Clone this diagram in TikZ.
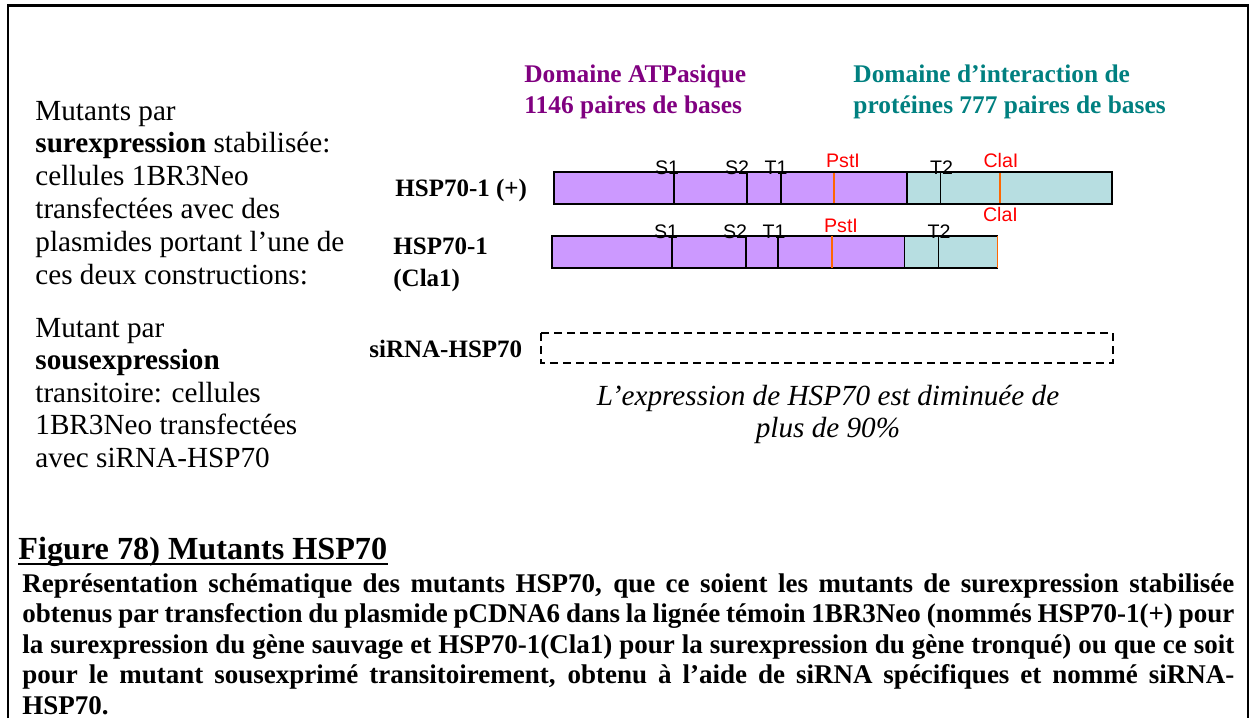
\documentclass[tikz,border=0pt]{standalone}
\usepackage{fontspec}
\setmainfont{Liberation Serif}
\newfontfamily\arialfont{Liberation Sans}
\definecolor{atpcol}{HTML}{CC99FF}
\definecolor{intcol}{HTML}{B7DEE1}
\definecolor{atptext}{HTML}{800080}
\definecolor{inttext}{HTML}{008080}
\definecolor{cutcol}{HTML}{FF6600}

\begin{document}
\begin{tikzpicture}[x=0.5pt,y=-0.5pt,
    bartick/.style={line width=0.9pt},
    cuttick/.style={cutcol,line width=0.9pt},
    sitelbl/.style={font=\arialfont\fontsize{9.8}{11}\selectfont,inner sep=0pt,anchor=base},
    cutlbl/.style={sitelbl,text=red},
    cstlbl/.style={font=\bfseries\fontsize{12.5}{16}\selectfont,inner sep=0pt,anchor=base west,align=left},
    domlbl/.style={font=\bfseries\fontsize{12.7}{15.5}\selectfont,inner sep=0pt,anchor=base west,align=left},
    sidetxt/.style={font=\fontsize{14.6}{16.4}\selectfont,inner sep=0pt,anchor=base west,align=left}]
  \useasboundingbox (0,0) rectangle (1251,718);
  % cadre
  \draw[line width=1pt] (7.5,718) -- (7.5,5) -- (1247.5,5) -- (1247.5,718);
  \draw[line width=1.5pt] (7,5) -- (1248,5);

  % texte de gauche (ancre = ligne de base de la derniere ligne)
  \node[sidetxt] (surexp) at (35,284) {Mutants par\\
    \textbf{surexpression} stabilisée:\\
    cellules 1BR3Neo\\
    transfectées avec des\\
    plasmides portant l’une de\\
    ces deux constructions:};
  \node[sidetxt,font=\fontsize{14.6}{16.25}\selectfont] (sousexp) at (35,467) {Mutant par\\
    \textbf{sousexpression}\\
    transitoire: cellules\\
    1BR3Neo transfectées\\
    avec siRNA-HSP70};

  % domaines
  \node[domlbl,text=atptext] (domatp) at (524,113) {Domaine ATPasique\\1146 paires de bases};
  \node[domlbl,text=inttext] (domint) at (853,113) {Domaine d’interaction de\\protéines 777 paires de bases};

  % HSP70-1 (+)
  \fill[atpcol] (554,172) rectangle (907,204);
  \fill[intcol] (907,172) rectangle (1112,204);
  \foreach \px in {674,747,780.6,940.4}
    \draw[bartick] (\px,172) -- (\px,204);
  \draw[line width=0.6pt] (907,172) -- (907,204);
  \foreach \px in {833.6,999.8}
    \draw[cuttick] (\px,172) -- (\px,204);
  \draw[bartick] (554,172) rectangle (1112,204);
  \foreach \nm/\px in {S1/667,S2/737,T1/776,T2/941.5}
    \node[sitelbl] (a\nm) at (\px,174) {\nm};
  \node[cutlbl] (apst) at (843,167) {PstI};
  \node[cutlbl] (acla) at (1001,167) {ClaI};
  \node[cstlbl] (plus) at (395,196) {HSP70-1 (+)};

  % HSP70-1 (Cla1)
  \fill[atpcol] (552,236) rectangle (904.7,268);
  \fill[intcol] (904.7,236) rectangle (997.5,268);
  \foreach \px in {672,745.6,778,938.5}
    \draw[bartick] (\px,236) -- (\px,268);
  \draw[line width=0.6pt] (904.7,236) -- (904.7,268);
  \draw[bartick] (997.5,236) -- (552,236) -- (552,268) -- (997.5,268);
  \foreach \px in {831.7,997.5}
    \draw[cuttick] (\px,236) -- (\px,268);
  \foreach \nm/\px in {S1/666,S2/735,T1/774,T2/939}
    \node[sitelbl] (b\nm) at (\px,238) {\nm};
  \node[cutlbl] (bpst) at (841,232) {PstI};
  \node[cutlbl] (bcla) at (1000.5,221) {ClaI};
  \node[cstlbl] (trunc) at (393,286) {HSP70-1\\(Cla1)};

  % siRNA
  \draw[line width=0.75pt,dash pattern=on 4pt off 2.5pt] (541,333) rectangle (1113,363);
  \node[cstlbl] (sirna) at (369,357) {siRNA-HSP70};
  \node[font=\itshape\fontsize{14.6}{16}\selectfont,inner sep=0pt,anchor=base,align=center]
    (diminue) at (828,437) {L’expression de HSP70 est diminuée de\\plus de 90\%};

  % legende
  \node[font=\bfseries\fontsize{16.1}{18}\selectfont,inner sep=0pt,anchor=base west]
    (titre) at (18,559) {Figure 78) Mutants HSP70};
  \draw[line width=1.1pt] ([yshift=-2.4pt]titre.base west) -- ([yshift=-2.4pt]titre.base east);
  \node[font=\bfseries\fontsize{13.5}{15.25}\selectfont,
    inner sep=0pt,anchor=base west,text width=606pt,align=justify] (legende) at (22,592)
    {Représentation schématique des mutants HSP70, que ce soient les mutants de surexpression stabilisée\linebreak
    obtenus par transfection du plasmide pCDNA6 dans la lignée témoin 1BR3Neo (nommés HSP70-1(+) pour\linebreak
    la surexpression du gène sauvage et HSP70-1(Cla1) pour la surexpression du gène tronqué) ou que ce soit\linebreak
    pour le mutant sousexprimé transitoirement, obtenu à l’aide de siRNA spécifiques et nommé siRNA-\linebreak
    HSP70.};
\end{tikzpicture}
\end{document}
